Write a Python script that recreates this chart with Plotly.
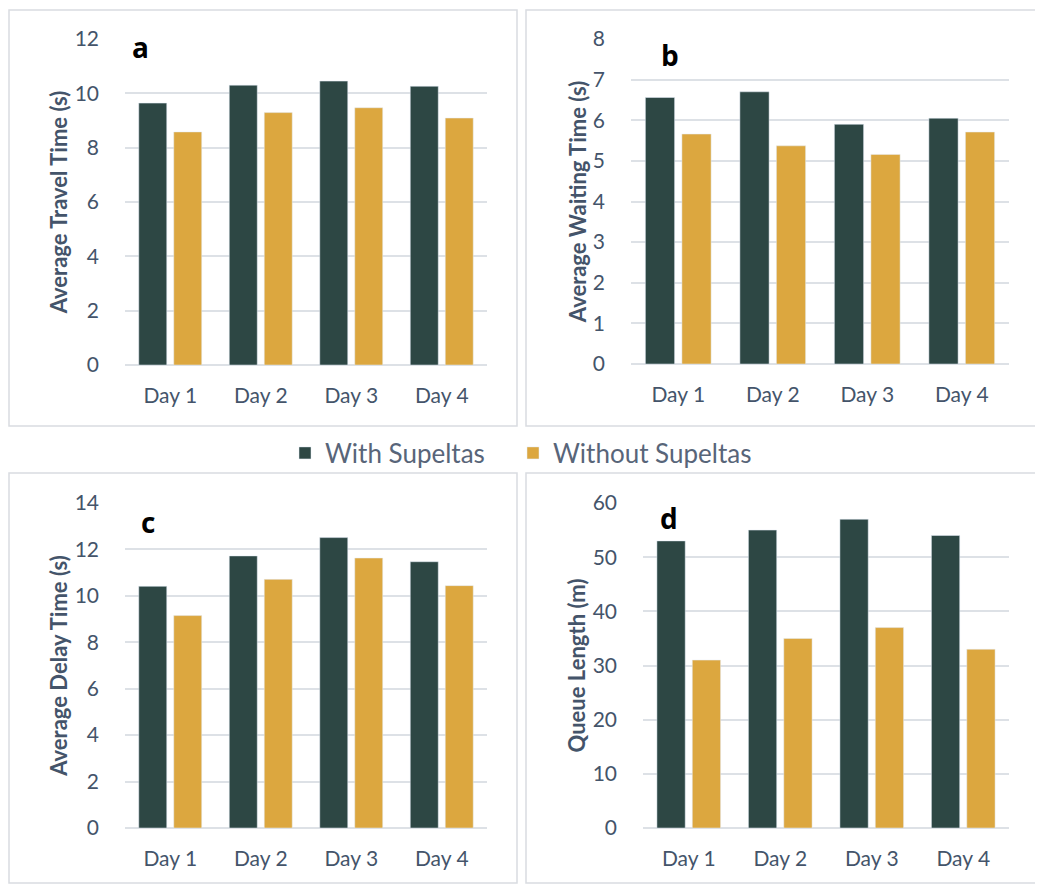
import plotly.graph_objects as go

W, H = 1043, 884
OFF = 8  # default page body margin

days = ["Day 1", "Day 2", "Day 3", "Day 4"]
series_names = ["With Supeltas", "Without Supeltas"]

travel_with = [9.64, 10.30, 10.45, 10.26]
travel_without = [8.58, 9.29, 9.47, 9.09]

waiting_with = [6.56, 6.70, 5.90, 6.05]
waiting_without = [5.66, 5.37, 5.16, 5.71]

delay_with = [10.41, 11.72, 12.51, 11.47]
delay_without = [9.15, 10.71, 11.63, 10.44]

queue_with = [53, 55, 57, 54]
queue_without = [31, 35, 37, 33]

panel_titles = ["Average Travel Time (s)", "Average Waiting Time (s)",
                "Average Delay Time (s)", "Queue Length (m)"]
panel_letters = ["a", "b", "c", "d"]
y_ranges = [[0, 12], [0, 8], [0, 14], [0, 60]]
y_dticks = [2, 1, 2, 10]

DARK = "#2d4744"
GOLD = "#dca73f"
TXT = "#44546a"
GRID = "#dde1e6"
FONT = "Lato"

def px_x(p):
    return (p - OFF) / W

def px_y(p):
    return 1 - (p - OFF) / H

# plot-area pixel boxes (screen px): (x0, x1, ytop, ybottom)
boxes = [(125, 487, 39, 365), (631, 1009, 39, 364),
         (125, 487, 503, 828), (643, 1009, 503, 828)]
# panel border boxes
borders = [(9, 10, 517, 426), (526, 10, 1039, 426),
           (9, 473, 517, 883), (526, 473, 1039, 883)]
letter_pos = [(140, 47), (670, 55), (148, 522), (669, 518)]

data = [(travel_with, travel_without), (waiting_with, waiting_without),
        (delay_with, delay_without), (queue_with, queue_without)]

legend_style = dict(orientation="h", xanchor="left", y=px_y(453), yanchor="middle",
                    font=dict(size=26, color="#586579", family=FONT),
                    itemwidth=30, tracegroupgap=0, bgcolor="rgba(0,0,0,0)")

fig = go.Figure()
layout = dict(
    width=W, height=H,
    margin=dict(l=0, r=0, t=0, b=0, autoexpand=False),
    paper_bgcolor="white", plot_bgcolor="white",
    barmode="group", bargap=0.227, bargroupgap=0.2,
    font=dict(family=FONT, color=TXT, size=20),
    showlegend=True,
    legend=dict(x=px_x(285), **legend_style),
    legend2=dict(x=px_x(513), **legend_style),
)

shapes = []
annotations = []
for i in range(4):
    xs = "x" if i == 0 else f"x{i+1}"
    ys = "y" if i == 0 else f"y{i+1}"
    xa = "xaxis" if i == 0 else f"xaxis{i+1}"
    ya = "yaxis" if i == 0 else f"yaxis{i+1}"
    w, wo = data[i]
    fig.add_trace(go.Bar(x=days, y=w, name=series_names[0], marker_color=DARK,
                         xaxis=xs, yaxis=ys, showlegend=(i == 0), legendgroup="w",
                         legend="legend"))
    fig.add_trace(go.Bar(x=days, y=wo, name=series_names[1], marker_color=GOLD,
                         xaxis=xs, yaxis=ys, showlegend=(i == 0), legendgroup="wo",
                         legend="legend2"))
    x0, x1, yt, yb = boxes[i]
    layout[xa] = dict(domain=[px_x(x0), px_x(x1)], anchor=ys, showgrid=False,
                      showline=False, ticks="", ticklabelstandoff=16, automargin=False,
                      tickfont=dict(size=21, color=TXT, family=FONT), fixedrange=True)
    layout[ya] = dict(domain=[px_y(yb), px_y(yt)], anchor=xs, range=y_ranges[i],
                      dtick=y_dticks[i], showgrid=True, gridcolor=GRID, gridwidth=1.5,
                      zeroline=True, zerolinecolor=GRID, zerolinewidth=2,
                      showline=False, ticks="", ticklabelstandoff=25, automargin=False,
                      tickfont=dict(size=21, color=TXT, family=FONT),
                      title=dict(text=f"<b>{panel_titles[i]}</b>", standoff=0,
                                 font=dict(size=22, color=TXT, family=FONT)),
                      fixedrange=True)
    bx0, by0, bx1, by1 = borders[i]
    shapes.append(dict(type="rect", xref="paper", yref="paper",
                       x0=px_x(bx0), x1=px_x(bx1), y0=px_y(by1), y1=px_y(by0),
                       line=dict(color="#d9dce1", width=1.5), fillcolor="rgba(0,0,0,0)",
                       layer="below"))
    lx, ly = letter_pos[i]
    annotations.append(dict(text=f"<b>{panel_letters[i]}</b>", xref="paper", yref="paper",
                            x=px_x(lx), y=px_y(ly), xanchor="center", yanchor="middle",
                            showarrow=False, font=dict(size=28, color="black", family="Open Sans")))

layout["shapes"] = shapes
layout["annotations"] = annotations
fig.update_layout(**layout)
fig.write_html("out.html")
